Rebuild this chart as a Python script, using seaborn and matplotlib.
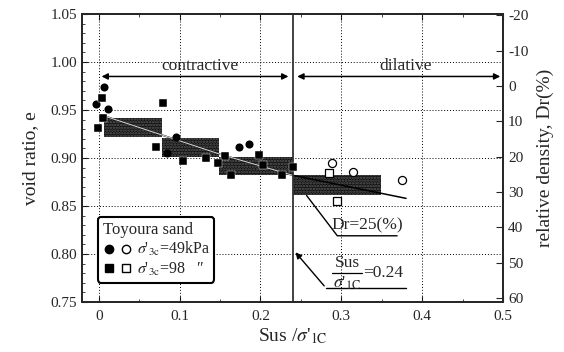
import numpy as np
import pandas as pd
import matplotlib
matplotlib.use("Agg")
import matplotlib.pyplot as plt
import seaborn as sns
from matplotlib.legend_handler import HandlerTuple
from matplotlib.lines import Line2D

# data
# sigma'3c = 49 kPa, filled circles
c49_x = [-0.003, 0.006, 0.011, 0.085, 0.096, 0.173, 0.186]
c49_e = [0.956, 0.974, 0.951, 0.905, 0.922, 0.911, 0.915]
# sigma'3c = 98 kPa, filled squares
s98_x = [0.004, -0.001, 0.005, 0.079, 0.071, 0.104, 0.133, 0.156, 0.147, 0.163, 0.198, 0.203, 0.227, 0.240]
s98_e = [0.963, 0.931, 0.942, 0.957, 0.912, 0.897, 0.900, 0.902, 0.895, 0.882, 0.903, 0.893, 0.882, 0.891]
# open symbols (dilative side)
o49_x = [0.288, 0.315, 0.375]
o49_e = [0.895, 0.885, 0.877]
o98_x = [0.285, 0.294]
o98_e = [0.884, 0.855]

# dense clusters of overlapping points (drawn as shaded bands)
band_x0 = [0.007, 0.078, 0.149, 0.240]
band_x1 = [0.078, 0.149, 0.240, 0.349]
band_lo = [0.922, 0.901, 0.882, 0.861]
band_hi = [0.942, 0.921, 0.901, 0.882]

# trend line
trend_x = [0.010, 0.150, 0.240, 0.380]
trend_e = [0.943, 0.904, 0.882, 0.858]

sus_limit = 0.24

sns.set_style("ticks")
plt.rcParams['font.family'] = ['Liberation Serif', 'DejaVu Serif']
plt.rcParams['mathtext.fontset'] = 'stix'
plt.rcParams['axes.unicode_minus'] = False
plt.rcParams['hatch.linewidth'] = 1.2

fig = plt.figure(figsize=(5.64, 3.52), dpi=100)
ax = fig.add_axes([0.145, 0.142, 0.747, 0.818])

for x0, x1, lo, hi in zip(band_x0, band_x1, band_lo, band_hi):
    ax.fill_between([x0, x1], [lo, lo], [hi, hi], facecolor='#0e0e0e',
                    hatch='......', edgecolor='#5c5c5c', linewidth=0, zorder=2)

sns.lineplot(x=trend_x, y=trend_e, color='black', lw=1.1, ax=ax, zorder=3)
sns.lineplot(x=trend_x[:3], y=trend_e[:3], color='#d0d0d0', lw=0.8, ax=ax, zorder=3)

sns.scatterplot(x=c49_x, y=c49_e, marker='o', color='black', s=34, ax=ax, zorder=4, linewidth=0)
sns.scatterplot(x=s98_x, y=s98_e, marker='s', color='black', s=34, ax=ax, zorder=4,
                edgecolor='white', linewidth=0.3)
sns.scatterplot(x=o49_x, y=o49_e, marker='o', facecolor='white', edgecolor='black', s=34,
                linewidth=0.9, ax=ax, zorder=4)
sns.scatterplot(x=o98_x, y=o98_e, marker='s', facecolor='white', edgecolor='black', s=34,
                linewidth=0.9, ax=ax, zorder=4)

ax.axvline(sus_limit, color='#333333', lw=1.3, zorder=3)

ax.set_xlim(-0.021, 0.5)
ax.set_ylim(0.75, 1.05)
ax.set_xticks([0, 0.1, 0.2, 0.3, 0.4, 0.5])
ax.set_xticklabels(['0', '0.1', '0.2', '0.3', '0.4', '0.5'])
ax.set_yticks(np.arange(0.75, 1.051, 0.05))
ax.set_yticklabels(['0.75', '0.80', '0.85', '0.90', '0.95', '1.00', '1.05'])
ax.set_xticks(np.arange(0, 0.5, 0.05), minor=True)
ax.set_yticks(np.arange(0.75, 1.05, 0.01), minor=True)
ax.tick_params(which='both', direction='in', top=True, right=False, labelsize=11)
ax.tick_params(which='major', length=4)
ax.tick_params(which='minor', length=2)
ax.tick_params(axis='x', pad=6)

for xv in [0, 0.1, 0.2, 0.3, 0.4]:
    ax.axvline(xv, color='black', ls=(0, (1, 2)), lw=0.7, zorder=1)
for yv in [0.8, 0.85, 0.9, 0.95, 1.0]:
    ax.axhline(yv, color='black', ls=(0, (1, 2)), lw=0.7, zorder=1)

for s in ax.spines.values():
    s.set_linewidth(1.3)

ax.set_xlabel(r"Sus /$\sigma$'$_{\rm 1C}$", fontsize=14, labelpad=2)
ax.set_ylabel("void ratio, e", fontsize=14, labelpad=8)

# contractive / dilative arrows
ax.annotate('', xy=(0.0, 0.985), xytext=(sus_limit - 0.002, 0.985),
            arrowprops=dict(arrowstyle='<|-|>', color='black', lw=1.1, mutation_scale=9))
ax.annotate('', xy=(sus_limit + 0.002, 0.985), xytext=(0.5, 0.985),
            arrowprops=dict(arrowstyle='<|-|>', color='black', lw=1.1, mutation_scale=9))
ax.text(0.125, 0.988, 'contractive', ha='center', va='bottom', fontsize=12.5)
ax.text(0.38, 0.988, 'dilative', ha='center', va='bottom', fontsize=12.5)

# Dr = 25 % label
ax.plot([0.257, 0.295, 0.369], [0.861, 0.819, 0.819], color='black', lw=1.0)
ax.text(0.332, 0.821, 'Dr=25(%)', ha='center', va='bottom', fontsize=12.5)

# Sus / sigma'1C = 0.24 label
ax.plot([0.281, 0.380], [0.7646, 0.7646], color='black', lw=1.0)
ax.annotate('', xy=(sus_limit + 0.001, 0.804), xytext=(0.281, 0.7646),
            arrowprops=dict(arrowstyle='-|>', color='black', lw=1.0, mutation_scale=9))
ax.plot([0.289, 0.326], [0.7805, 0.7805], color='black', lw=0.9)
ax.text(0.3075, 0.782, 'Sus', ha='center', va='bottom', fontsize=12.5)
ax.text(0.3075, 0.779, r"$\sigma$'$_{\rm 1C}$", ha='center', va='top', fontsize=12.5)
ax.text(0.327, 0.7805, '=0.24', ha='left', va='center', fontsize=12.5)

# legend
h49 = (Line2D([], [], marker='o', color='black', ls='', ms=6),
       Line2D([], [], marker='o', mfc='white', mec='black', ls='', ms=6))
h98 = (Line2D([], [], marker='s', color='black', ls='', ms=6),
       Line2D([], [], marker='s', mfc='white', mec='black', ls='', ms=6))
leg = ax.legend([h49, h98], [r"$\sigma$'$_{\rm 3c}$=49kPa", r"$\sigma$'$_{\rm 3c}$=98   ″"],
                handler_map={tuple: HandlerTuple(ndivide=None, pad=0.4)},
                title='Toyoura sand', title_fontsize=12, fontsize=11.5,
                loc='lower left', bbox_to_anchor=(0.02, 0.04), frameon=True, fancybox=True,
                handlelength=1.8, handletextpad=0.3, borderpad=0.3, labelspacing=0.15,
                framealpha=1, edgecolor='black')
leg.get_frame().set_linewidth(1.5)
leg._legend_box.align = 'left'

# right axis: relative density
ax2 = ax.twinx()
ax2.set_ylim(61.1, -20.3)
ax2.set_yticks(np.arange(-20, 61, 10))
ax2.tick_params(direction='in', length=5, labelsize=11)
ax2.set_ylabel("relative density, Dr(%)", fontsize=14, labelpad=6)
for s in ax2.spines.values():
    s.set_linewidth(1.3)

fig.savefig('out.png', dpi=100)
